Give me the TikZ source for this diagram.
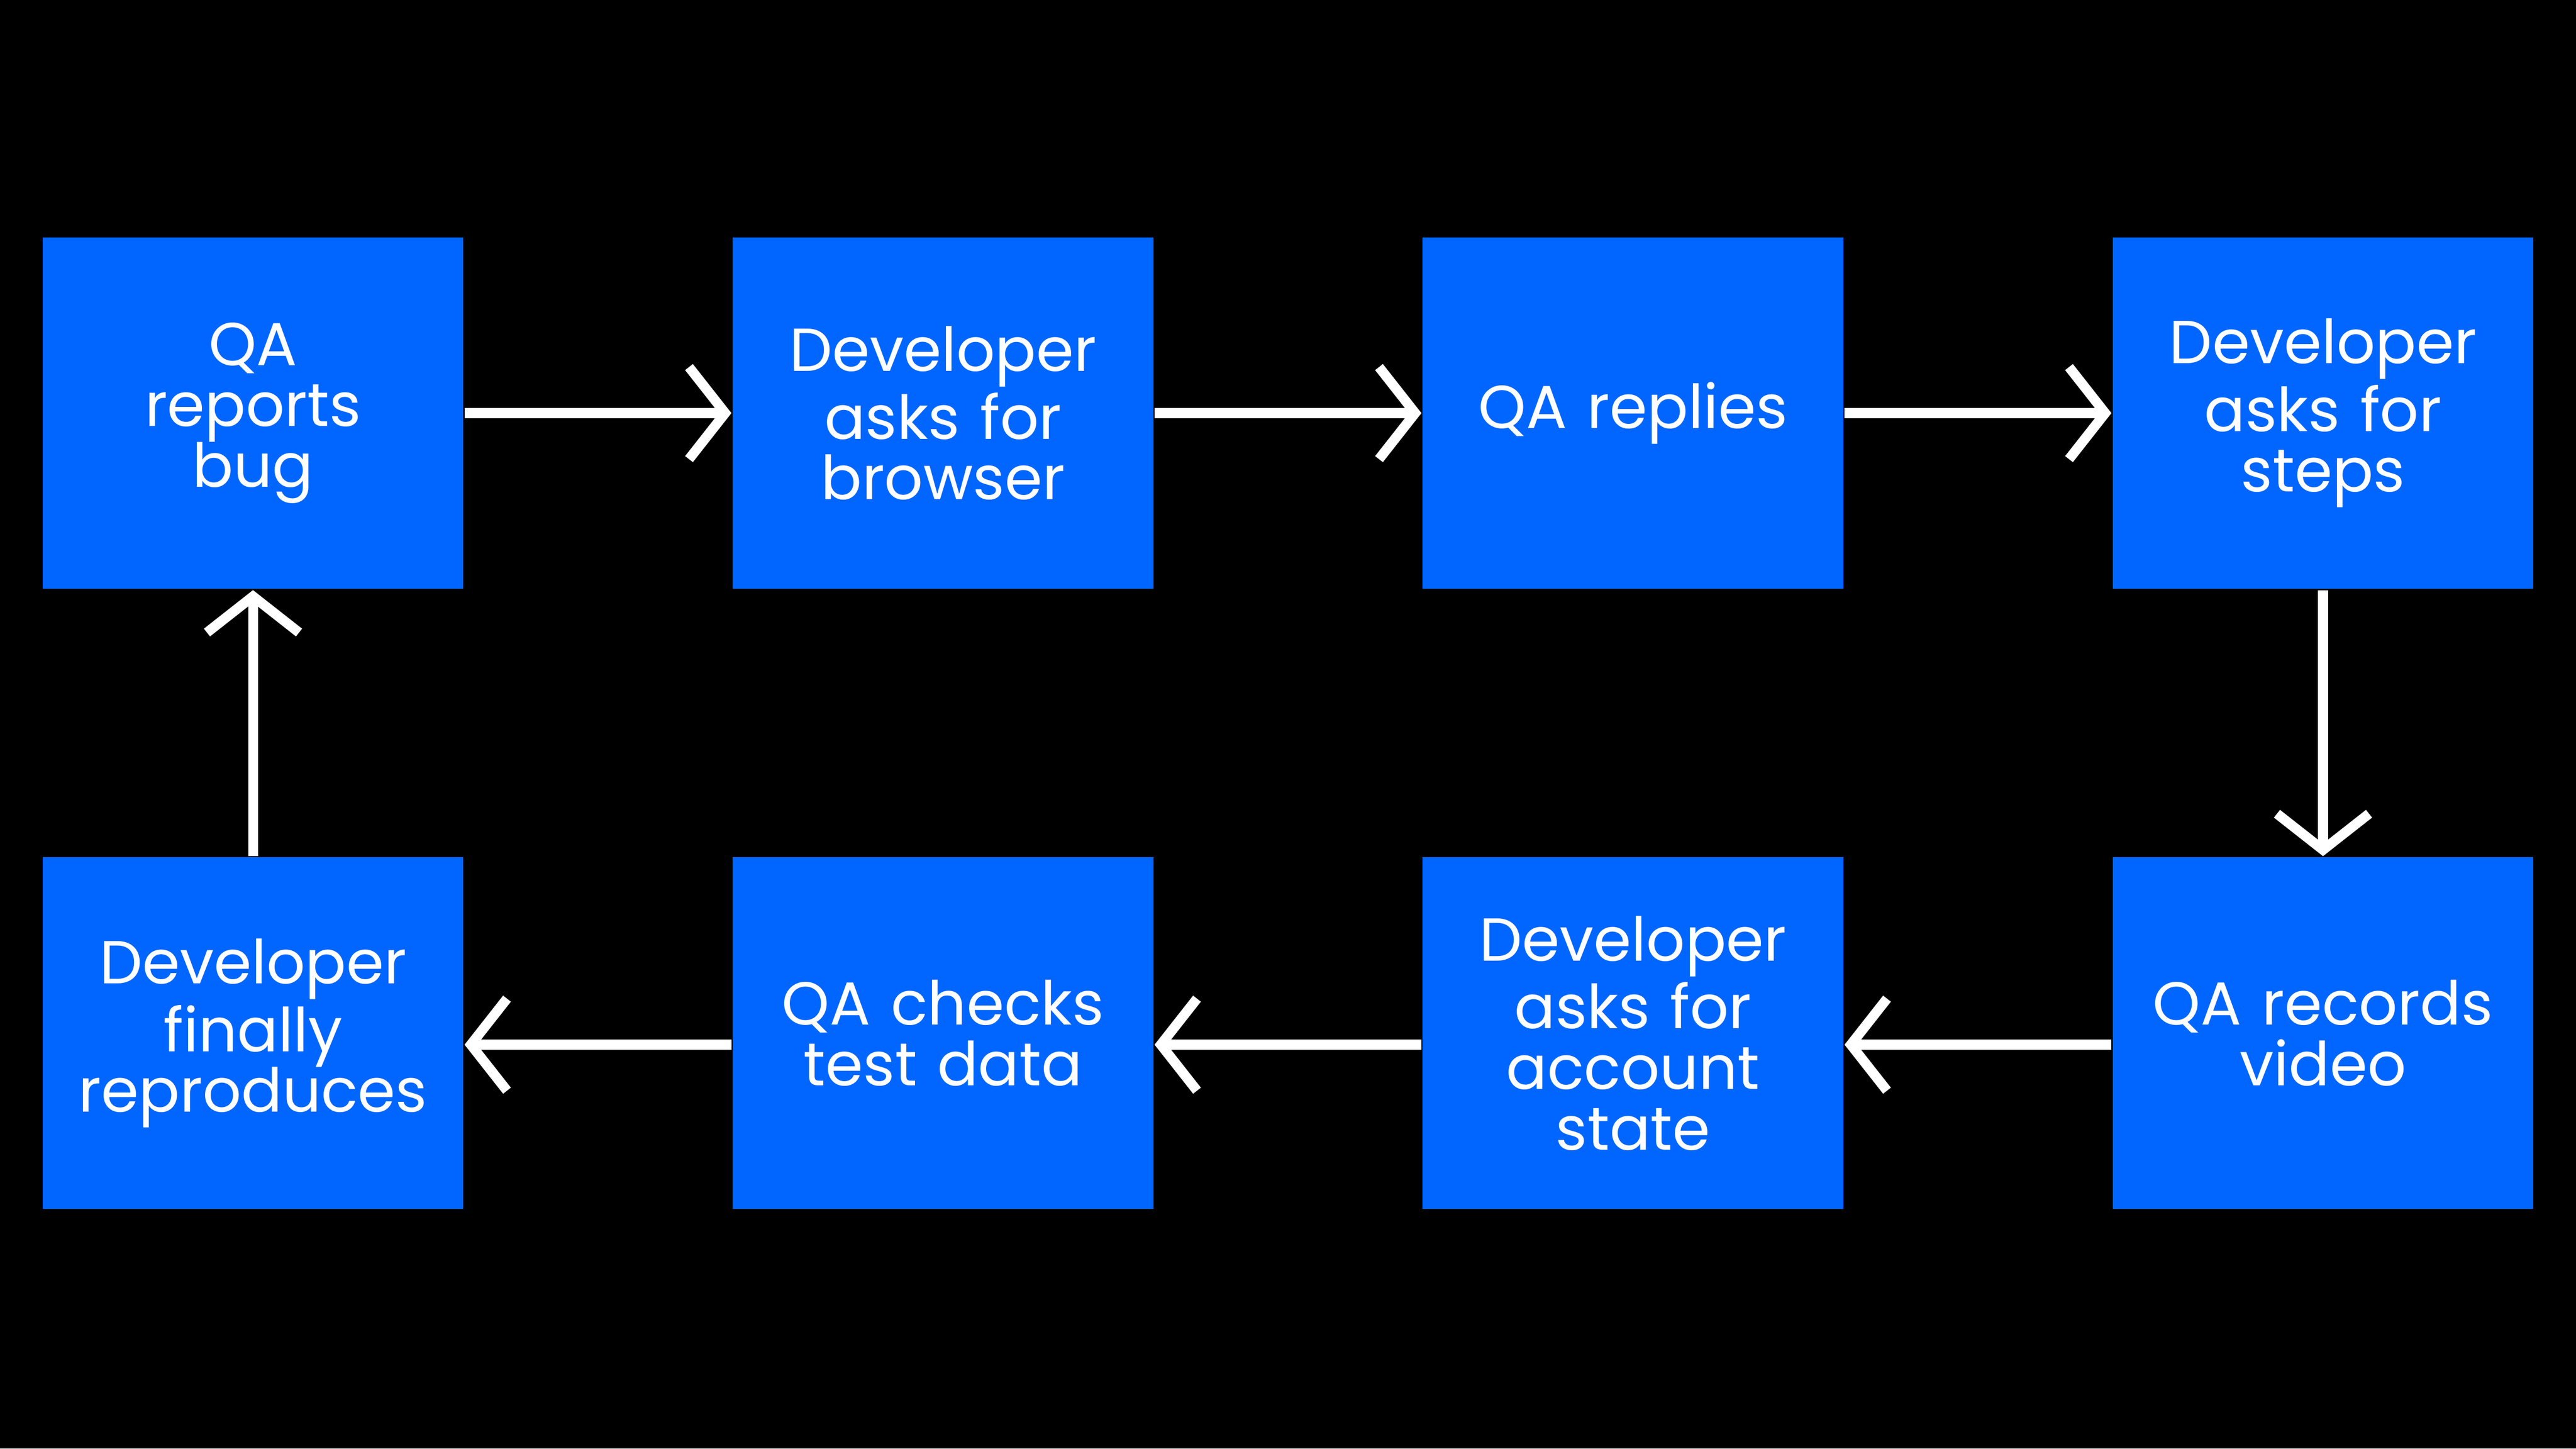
\documentclass[tikz,border=0pt]{standalone}
\usepackage{fontspec}
\setmainfont{Poppins}
\usetikzlibrary{arrows.meta}
\definecolor{boxblue}{HTML}{0066FF}
\begin{document}
\begin{tikzpicture}[x=0.01cm,y=-0.01cm,
  box/.style={fill=boxblue,minimum width=2.56cm,minimum height=2.14cm,inner sep=0pt,
    text=white,align=center,font=\fontsize{10.5}{10.5}\selectfont,text width=2.4cm},
  arr/.style={draw=white,line width=0.06cm,-{Straight Barb[length=0.22cm,width=0.56cm,line width=0.06cm]}}]
\fill[black] (0,0) rectangle (1568,882);
\useasboundingbox (0,0) rectangle (1568,882);
\node[box] (a) at (154,251.5) {QA\\reports\\bug};
\node[box] (b) at (574,251.5) {Developer\\asks for\\browser};
\node[box] (c) at (994,251.5) {QA replies};
\node[box] (d) at (1414,251.5) {Developer\\asks for\\steps};
\node[box] (e) at (1414,629) {QA records\\video};
\node[box] (f) at (994,629) {Developer\\asks for\\account\\state};
\node[box] (g) at (574,629) {QA checks\\test data};
\node[box] (h) at (154,629) {Developer\\finally\\reproduces};
\draw[arr] (a.east) -- (b.west);
\draw[arr] (b.east) -- (c.west);
\draw[arr] (c.east) -- (d.west);
\draw[arr] (d.south) -- (e.north);
\draw[arr] (e.west|-1414,636) -- (f.east|-994,636);
\draw[arr] (f.west|-994,636) -- (g.east|-574,636);
\draw[arr] (g.west|-574,636) -- (h.east|-154,636);
\draw[arr] (h.north) -- (a.south);
\end{tikzpicture}
\end{document}
